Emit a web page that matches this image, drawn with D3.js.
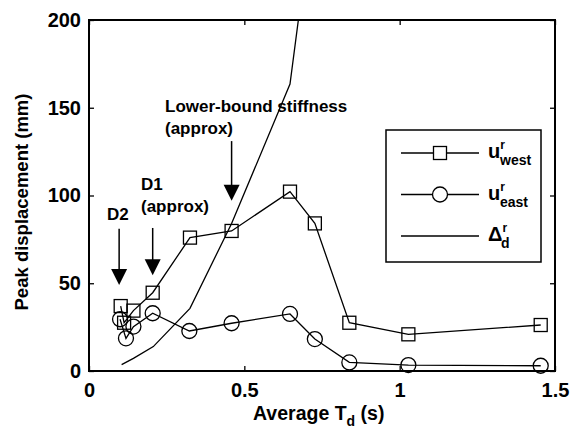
<!DOCTYPE html>
<head>
    <meta charset="utf-8">
    <style>
        body { margin: 0; background: #fff; }
        text { font-family: "Liberation Sans", Arial, sans-serif; font-weight: bold; fill: #000; }
    </style>
</head>
<body>
    <div id="chart"></div>
    <script src="https://d3js.org/d3.v7.min.js"></script>
    <script>
        // values
        var xTicks = [0, 0.5, 1, 1.5];
        var yTicks = [0, 50, 100, 150, 200];

        var westT = [0.102, 0.113, 0.143, 0.205, 0.325, 0.459, 0.647, 0.727, 0.838, 1.028, 1.454];
        var westU = [37, 27.5, 34.4, 44.6, 76, 79.8, 102.2, 84.1, 27.5, 20.9, 26.2];

        var eastT = [0.100, 0.119, 0.143, 0.205, 0.323, 0.459, 0.647, 0.727, 0.838, 1.028, 1.454];
        var eastU = [29.5, 18.6, 25.3, 32.9, 22.8, 27.2, 32.5, 18.2, 4.9, 3.4, 3.0];

        var deltaT = [0.105, 0.143, 0.207, 0.325, 0.459, 0.647, 0.727];
        var deltaD = [3.6, 7.2, 13.9, 35.7, 84, 163.5, 272];

        // arrows: [x, tail value, tip value]
        var arrows = [
            [0.459, 131, 97],
            [0.205, 81.5, 54.5],
            [0.097, 81, 49]
        ];

        var width = 571, height = 434;
        var margin = {top: 20, right: 16, bottom: 63, left: 89};
        var w = width - margin.left - margin.right,
            h = height - margin.top - margin.bottom;

        var svg = d3.select("#chart").append("svg")
            .attr("width", width)
            .attr("height", height);

        var g = svg.append("g")
            .attr("transform", "translate(" + margin.left + "," + margin.top + ")");

        var x = d3.scaleLinear().domain([0, 1.5]).range([0, w]);
        var y = d3.scaleLinear().domain([0, 200]).range([h, 0]);

        g.append("clipPath").attr("id", "clip")
            .append("rect").attr("width", w).attr("height", h);

        // tick marks inside on all four sides
        var tl = 5;
        g.append("g").attr("transform", "translate(0," + h + ")")
            .call(d3.axisBottom(x).tickValues(xTicks).tickSizeInner(-tl).tickSizeOuter(0).tickFormat(d3.format("")).tickPadding(12));
        g.append("g")
            .call(d3.axisTop(x).tickValues(xTicks).tickSizeInner(-tl).tickSizeOuter(0).tickFormat(""));
        g.append("g")
            .call(d3.axisLeft(y).tickValues(yTicks).tickSizeInner(-tl).tickSizeOuter(0).tickPadding(8));
        g.append("g").attr("transform", "translate(" + w + ",0)")
            .call(d3.axisRight(y).tickValues(yTicks).tickSizeInner(-tl).tickSizeOuter(0).tickFormat(""));

        g.selectAll(".domain").remove();
        g.selectAll(".tick line").attr("stroke", "#000").attr("stroke-width", 1.3);
        g.selectAll(".tick text").attr("font-size", 20).attr("fill", "#000")
            .attr("font-family", "'Liberation Sans', Arial, sans-serif").attr("font-weight", "bold");

        g.append("rect")
            .attr("width", w).attr("height", h)
            .attr("fill", "none").attr("stroke", "#000").attr("stroke-width", 2);

        var line = d3.line().x(function(d) { return x(d[0]); }).y(function(d) { return y(d[1]); });

        var west = d3.zip(westT, westU),
            east = d3.zip(eastT, eastU),
            delta = d3.zip(deltaT, deltaD);

        g.append("path").datum(delta).attr("d", line).attr("clip-path", "url(#clip)")
            .attr("fill", "none").attr("stroke", "#000").attr("stroke-width", 1.3);

        g.append("path").datum(west).attr("d", line)
            .attr("fill", "none").attr("stroke", "#000").attr("stroke-width", 1.3);
        g.append("path").datum(east).attr("d", line)
            .attr("fill", "none").attr("stroke", "#000").attr("stroke-width", 1.3);

        var sq = 13;
        g.selectAll(".sq").data(west).enter().append("rect")
            .attr("x", function(d) { return x(d[0]) - sq / 2; })
            .attr("y", function(d) { return y(d[1]) - sq / 2; })
            .attr("width", sq).attr("height", sq)
            .attr("fill", "none").attr("stroke", "#000").attr("stroke-width", 1.3);

        g.selectAll(".circ").data(east).enter().append("circle")
            .attr("cx", function(d) { return x(d[0]); })
            .attr("cy", function(d) { return y(d[1]); })
            .attr("r", 7.5)
            .attr("fill", "none").attr("stroke", "#000").attr("stroke-width", 1.3);

        // arrows
        arrows.forEach(function(a) {
            var ax = x(a[0]), y0 = y(a[1]), y1 = y(a[2]);
            g.append("line").attr("x1", ax).attr("x2", ax).attr("y1", y0).attr("y2", y1 - 10)
                .attr("stroke", "#000").attr("stroke-width", 1.5);
            g.append("path")
                .attr("d", "M" + (ax - 8) + "," + (y1 - 16) + "L" + (ax + 8) + "," + (y1 - 16) + "L" + ax + "," + y1 + "Z")
                .attr("fill", "#000");
        });

        // annotations
        var ann = svg.append("g").attr("font-size", 17);
        ann.append("text").attr("x", 165).attr("y", 112).text("Lower-bound stiffness");
        ann.append("text").attr("x", 165).attr("y", 134).text("(approx)");
        ann.append("text").attr("x", 141).attr("y", 190).text("D1");
        ann.append("text").attr("x", 141).attr("y", 212).text("(approx)");
        ann.append("text").attr("x", 107).attr("y", 220).text("D2");

        // axis titles
        var xt = svg.append("text").attr("x", 253).attr("y", 420).attr("font-size", 19.5);
        xt.append("tspan").text("Average T");
        xt.append("tspan").attr("dy", 6).attr("font-size", 14).text("d");
        xt.append("tspan").attr("dy", -6).text(" (s)");

        svg.append("text")
            .attr("transform", "translate(28,202) rotate(-90)")
            .attr("text-anchor", "middle").attr("font-size", 18.5)
            .text("Peak displacement (mm)");

        // legend
        var lg = svg.append("g");
        lg.append("rect").attr("x", 386).attr("y", 130).attr("width", 155).attr("height", 132)
            .attr("fill", "#fff").attr("stroke", "#000").attr("stroke-width", 1.5);
        var rows = [["west", "sq"], ["east", "circ"], ["d", "none"]];
        rows.forEach(function(r, i) {
            var ly = 153 + i * 41.5;
            lg.append("line").attr("x1", 401).attr("x2", 479).attr("y1", ly).attr("y2", ly)
                .attr("stroke", "#000").attr("stroke-width", 1.3);
            if (r[1] == "sq") {
                lg.append("rect").attr("x", 440 - sq / 2).attr("y", ly - sq / 2).attr("width", sq).attr("height", sq)
                    .attr("fill", "#fff").attr("stroke", "#000").attr("stroke-width", 1.3);
            } else if (r[1] == "circ") {
                lg.append("circle").attr("cx", 440).attr("cy", ly).attr("r", 7.5)
                    .attr("fill", "#fff").attr("stroke", "#000").attr("stroke-width", 1.3);
            }
            var t = lg.append("text").attr("x", 488).attr("y", ly + 5).attr("font-size", 20);
            t.append("tspan").text(i == 2 ? "\u0394" : "u");
            t.append("tspan").attr("dy", -9).attr("font-size", 12).text("r");
            t.append("tspan").attr("x", i == 2 ? 501 : 500).attr("dy", 16).attr("font-size", 14).text(r[0]);
        });
    </script>
</body>
